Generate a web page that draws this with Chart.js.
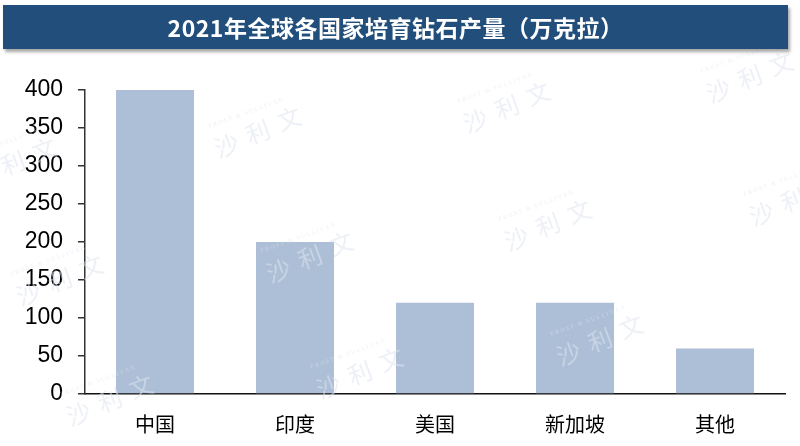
<!DOCTYPE html>
<html>
<head>
<meta charset="utf-8">
<script src="https://cdn.jsdelivr.net/npm/chart.js@4/dist/chart.umd.min.js"></script>
<style>
  body { margin: 0; background: #fff; }
  #wrap { position: relative; width: 800px; height: 446px; }
  #title {
    position: absolute; left: 3px; top: 5px; width: 785px; height: 44px;
    background: #224e7b; color: #fff;
    box-shadow: 2px 3px 3px rgba(0,0,0,0.35);
    display: flex; align-items: center; justify-content: center;
    font-family: "Noto Sans CJK SC", sans-serif; font-weight: bold;
    font-size: 23px; letter-spacing: 0.5px; z-index: 2;
  }
  canvas { position: absolute; left: 0; top: 0; }
</style>
</head>
<body>
<div id="wrap">
  <div id="title">2021年全球各国家培育钻石产量（万克拉）</div>
  <canvas id="chart" width="800" height="446"></canvas>
</div>
<script>
const countries = ["中国", "印度", "美国", "新加坡", "其他"];
const output = [400, 200, 120, 120, 60];
const yTicks = [0, 50, 100, 150, 200, 250, 300, 350, 400];

// watermark spots (centre of the middle character)
const markSpots = [
  [13, 163], [60, 280], [110, 400], [258, 132], [310, 257], [360, 373],
  [507, 107], [548, 225], [600, 340], [750, 77], [793, 200]
];

const watermark = {
  id: 'watermark',
  afterDatasetsDraw(chart) {
    const ctx = chart.ctx;
    ctx.save();
    markSpots.forEach(([x, y]) => {
      ctx.save();
      ctx.translate(x, y);
      ctx.rotate(-20 * Math.PI / 180);
      ctx.fillStyle = 'rgba(222,228,238,0.55)';
      ctx.font = '24px "Noto Sans CJK SC"';
      ctx.textAlign = 'center';
      ctx.textBaseline = 'middle';
      ctx.fillText('沙', -34, 2);
      ctx.fillText('利', 0, 0);
      ctx.fillText('文', 34, -2);
      ctx.font = '6px "Liberation Serif"';
      ctx.fillText('F R O S T   &   S U L L I V A N', -5, -22);
      ctx.restore();
    });
    ctx.restore();
  }
};

new Chart(document.getElementById('chart'), {
  type: 'bar',
  data: {
    labels: countries,
    datasets: [{
      data: output,
      backgroundColor: '#adbfd6',
      categoryPercentage: 1,
      barPercentage: 0.557
    }]
  },
  options: {
    responsive: false,
    animation: false,
    layout: { padding: { top: 90, right: 15, left: 0, bottom: 0 } },
    plugins: { legend: { display: false }, tooltip: { enabled: false } },
    scales: {
      x: {
        afterFit(scale) { scale.height = 52; },
        grid: { display: false },
        border: { display: true, color: '#111', width: 1.5 },
        ticks: {
          color: '#000', padding: 10,
          font: { family: '"Noto Sans CJK SC"', size: 20 }
        }
      },
      y: {
        min: 0, max: 400,
        afterFit(scale) { scale.width = 85; },
        afterBuildTicks(scale) { scale.ticks = yTicks.map(v => ({ value: v })); },
        grid: { drawOnChartArea: false, drawTicks: true, tickLength: 7, color: '#333', lineWidth: 1.5 },
        border: { display: true, color: '#333', width: 1.5 },
        ticks: {
          color: '#000', padding: 15,
          font: { family: '"Liberation Sans"', size: 23 }
        }
      }
    }
  },
  plugins: [watermark]
});
</script>
</body>
</html>
